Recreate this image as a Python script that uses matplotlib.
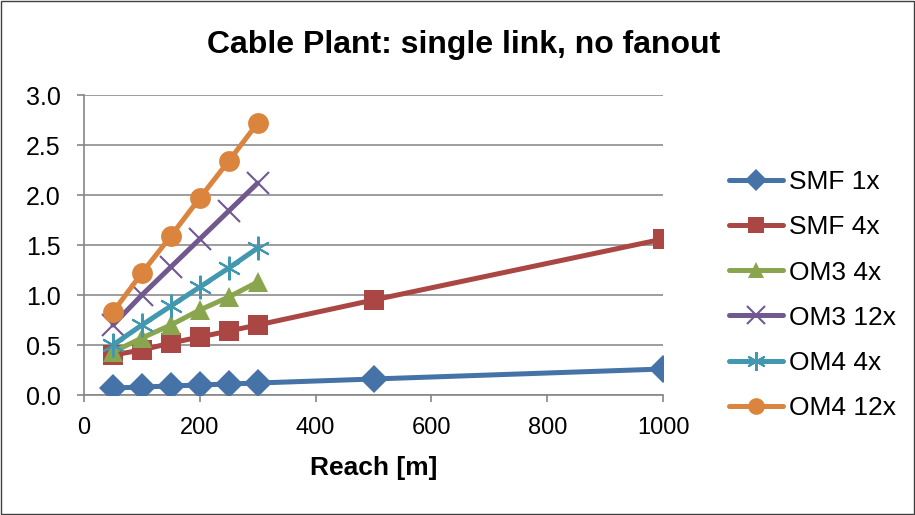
import matplotlib.pyplot as plt
from matplotlib.lines import Line2D

plt.rcParams['font.family'] = ['Liberation Sans', 'DejaVu Sans']

# ─── data ─────────────────────────────────────────────────────────────────────

reach_long = [50, 100, 150, 200, 250, 300, 500, 1000]
reach_short = [50, 100, 150, 200, 250, 300]

smf_1x = [0.07, 0.08, 0.09, 0.10, 0.11, 0.12, 0.16, 0.26]
smf_4x = [0.40, 0.45, 0.52, 0.58, 0.64, 0.70, 0.95, 1.56]
om3_4x = [0.43, 0.57, 0.70, 0.85, 0.98, 1.13]
om3_12x = [0.70, 1.00, 1.28, 1.56, 1.84, 2.12]
om4_4x = [0.50, 0.70, 0.89, 1.08, 1.27, 1.47]
om4_12x = [0.83, 1.22, 1.59, 1.97, 2.34, 2.72]

x_ticks = [0, 200, 400, 600, 800, 1000]
y_ticks = [0.0, 0.5, 1.0, 1.5, 2.0, 2.5, 3.0]

series = [
    ("SMF 1x", reach_long, smf_1x, "#4572A7", "D", 14),
    ("SMF 4x", reach_long, smf_4x, "#AA4643", "s", 14),
    ("OM3 4x", reach_short, om3_4x, "#89A54E", "^", 15),
    ("OM3 12x", reach_short, om3_12x, "#71588F", "x", 16),
    ("OM4 4x", reach_short, om4_4x, "#4198AF", (6, 2, 0), 17),
    ("OM4 12x", reach_short, om4_12x, "#DB843D", "o", 15),
]
THIN = ("x", (6, 2, 0))

# ─── plot ─────────────────────────────────────────────────────────────────────

fig = plt.figure(figsize=(9.15, 5.15), dpi=100)
ax = fig.add_axes([0.0918, 0.233, 0.6328, 0.5825])

for label, xs, ys, color, marker, ms in series:
    ax.plot(xs, ys, color=color, lw=3.6, marker=marker, ms=ms,
            mew=1.5 if marker in THIN else 0,
            mec=color, solid_capstyle="round", label=label, zorder=3)

ax.set_xlim(0, 1000)
ax.set_ylim(0, 3.0)
ax.set_xticks(x_ticks)
ax.set_yticks(y_ticks)
ax.set_yticklabels([f"{v:.1f}" for v in y_ticks])
ax.tick_params(axis="both", colors="#868686", labelcolor="black",
               length=5, width=1.2, direction="out")
ax.tick_params(axis="x", labelsize=17, pad=11)
ax.tick_params(axis="y", labelsize=18, pad=12)
ax.grid(axis="y", color="#8c8c8c", lw=1.2, zorder=0)
for side in ("top", "right"):
    ax.spines[side].set_visible(False)
for side in ("left", "bottom"):
    ax.spines[side].set_color("#868686")
    ax.spines[side].set_linewidth(1.2)

ax.set_xlabel("Reach [m]", fontsize=19, fontweight="bold", labelpad=12)
fig.text(0.507, 0.913, "Cable Plant: single link, no fanout",
         ha="center", va="center", fontsize=23, fontweight="bold")

handles = [Line2D([], [], color=c, lw=3.6, marker=m, ms=ms * 0.8,
                  mew=1.5 if m in THIN else 0, mec=c,
                  solid_capstyle="round")
           for _, _, _, c, m, ms in series]
fig.legend(handles, [s[0] for s in series], loc="center left",
           bbox_to_anchor=(0.797, 0.427), frameon=False, fontsize=19,
           borderpad=0, borderaxespad=0,
           handlelength=2.05, handletextpad=0.2, labelspacing=0.8)

fig.patches.append(plt.Rectangle((0.001, 0.001), 0.998, 0.998,
                                 transform=fig.transFigure, fill=False,
                                 edgecolor="#404040", lw=1))

fig.savefig("out.png", dpi=100)
